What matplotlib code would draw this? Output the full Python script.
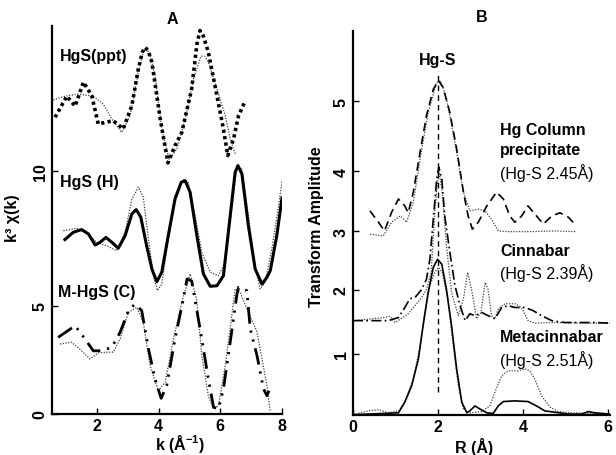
import matplotlib
matplotlib.use("Agg")
import matplotlib.pyplot as plt

plt.rcParams['font.family'] = ['Liberation Sans', 'DejaVu Sans']
plt.rcParams['mathtext.fontset'] = 'custom'
plt.rcParams['mathtext.rm'] = 'Liberation Sans:bold'
plt.rcParams['mathtext.bf'] = 'Liberation Sans:bold'
plt.rcParams['mathtext.it'] = 'Liberation Sans:italic:bold'

# ---------------- Panel A : k^3 chi(k) ----------------
ppt_k = [0.64, 1.02, 1.29, 1.56, 1.83, 2.04, 2.26, 2.53, 2.85, 3.13, 3.34, 3.47, 3.56, 3.66,
         3.78, 4.05, 4.30, 4.53, 4.75, 5.07, 5.24, 5.34, 5.45, 5.61, 5.89, 6.10, 6.24, 6.43,
         6.59, 6.81]
ppt_data = [11.99, 12.77, 12.40, 13.29, 12.79, 11.74, 11.80, 11.86, 11.56, 12.42, 13.78, 14.40,
            14.58, 14.45, 14.03, 11.93, 10.30, 10.94, 11.43, 13.04, 14.70, 15.20, 15.00, 14.40,
            12.79, 11.56, 10.57, 11.19, 12.05, 12.60]
ppt_fit_k = [0.58, 0.96, 1.39, 1.88, 2.20, 2.48, 2.80, 3.07, 3.34, 3.50, 3.61, 3.72, 3.88, 4.10,
             4.34, 4.59, 4.86, 5.13, 5.37, 5.50, 5.61, 5.89, 6.16, 6.32, 6.48]
ppt_fit = [12.63, 12.77, 12.85, 12.77, 12.48, 11.93, 11.43, 12.05, 13.66, 14.40, 14.54, 14.30,
           13.53, 11.56, 10.44, 10.81, 11.93, 13.41, 14.25, 14.25, 14.03, 13.04, 12.05, 11.19,
           10.63]

h_k = [0.96, 1.23, 1.50, 1.72, 1.94, 2.10, 2.29, 2.48, 2.69, 2.91, 3.13, 3.27, 3.42, 3.61,
       3.78, 3.94, 4.10, 4.31, 4.53, 4.73, 4.86, 5.02, 5.24, 5.45, 5.67, 5.89, 6.10, 6.32,
       6.48, 6.57, 6.70, 6.91, 7.13, 7.35, 7.51, 7.62, 7.83, 8.00]
h_data = [7.46, 7.73, 7.83, 7.67, 7.26, 7.36, 7.54, 7.36, 7.14, 7.60, 8.41, 8.57, 8.29, 7.23,
          6.37, 5.90, 6.25, 7.60, 8.96, 9.58, 9.64, 9.21, 7.60, 6.19, 5.73, 5.75, 6.12, 8.34,
          9.95, 10.20, 9.89, 7.97, 6.37, 5.81, 6.06, 6.31, 7.60, 9.00]
h_fit_k = [0.91, 1.34, 1.67, 1.99, 2.31, 2.64, 2.91, 3.13, 3.34, 3.50, 3.67, 3.83, 3.96, 4.10,
           4.31, 4.53, 4.80, 4.96, 5.18, 5.40, 5.67, 5.94, 6.16, 6.37, 6.54, 6.70, 6.91, 7.13,
           7.29, 7.45, 7.67, 7.89, 8.00]
h_fit = [7.79, 7.88, 7.70, 7.36, 7.23, 7.05, 7.73, 8.96, 9.40, 9.03, 7.48, 6.12, 5.57, 5.81,
         7.48, 9.09, 9.70, 9.58, 8.34, 6.99, 6.25, 6.12, 6.62, 8.59, 10.20, 10.07, 8.34, 6.49,
         5.63, 5.88, 7.11, 8.71, 9.60]

m_k = [0.74, 1.29, 1.61, 1.88, 2.15, 2.48, 2.75, 3.02, 3.23, 3.45, 3.67, 3.88, 4.08, 4.26, 4.53,
       4.80, 4.92, 5.07, 5.40, 5.61, 5.78, 5.94, 6.10, 6.32, 6.54, 6.59, 6.86, 6.97, 7.19, 7.40,
       7.51, 7.58]
m_data = [3.84, 4.27, 3.78, 3.34, 3.34, 3.47, 4.03, 4.83, 5.07, 4.83, 3.41, 2.30, 1.58, 2.05,
          3.78, 5.26, 6.00, 5.93, 3.78, 2.30, 1.25, 1.19, 1.93, 3.66, 5.44, 5.69, 5.57, 4.15,
          3.16, 1.93, 1.68, 1.86]
m_fit_k = [0.80, 1.18, 1.50, 1.77, 2.04, 2.31, 2.53, 2.75, 3.02, 3.29, 3.50, 3.72, 3.99, 4.21,
           4.48, 4.75, 5.02, 5.23, 5.40, 5.61, 5.78, 5.94, 6.16, 6.37, 6.48, 6.64, 6.86, 7.19,
           7.51, 7.62]
m_fit = [3.59, 3.66, 3.34, 3.04, 3.26, 3.29, 3.29, 3.78, 4.77, 4.95, 4.40, 2.79, 1.86, 2.17,
         3.78, 5.14, 6.19, 5.26, 3.16, 1.68, 1.19, 1.31, 2.79, 4.64, 5.63, 5.52, 4.89, 4.03,
         2.05, 1.08]

a_xticks = [2, 4, 6, 8]
a_ytick_pos = [1.0, 5, 10]
a_ytick_lab = ['0', '5', '10']

# ---------------- Panel B : Fourier transforms ----------------
col_r = [0.40, 0.60, 0.74, 0.91, 1.07, 1.22, 1.30, 1.42, 1.58, 1.73, 1.89, 2.01, 2.12, 2.28,
         2.44, 2.60, 2.71, 2.81, 2.95, 3.15, 3.38, 3.54, 3.69, 3.81, 3.97, 4.12, 4.32, 4.48,
         4.68, 4.87, 5.07, 5.26]
col_data = [3.25, 3.07, 2.93, 3.23, 3.44, 3.33, 3.22, 3.55, 4.19, 4.77, 5.19, 5.33, 5.22, 4.82,
            4.24, 3.55, 3.17, 2.96, 3.07, 3.33, 3.55, 3.44, 3.17, 3.07, 3.17, 3.33, 3.17, 3.04,
            3.17, 3.22, 3.15, 3.01]
col_fit_r = [0.40, 0.71, 0.91, 1.11, 1.26, 1.42, 1.58, 1.77, 1.97, 2.07, 2.20, 2.40, 2.60, 2.75,
             2.95, 3.11, 3.26, 3.42, 3.65, 4.12, 4.75, 5.26]
col_fit = [2.88, 2.85, 3.07, 3.17, 3.07, 3.39, 4.08, 4.82, 5.30, 5.32, 5.04, 4.34, 3.55, 3.25,
           3.28, 3.25, 3.12, 2.93, 2.92, 2.92, 2.93, 2.92]

cin_r = [0.0, 0.83, 1.07, 1.22, 1.34, 1.46, 1.62, 1.73, 1.81, 1.89, 1.97, 2.02, 2.09, 2.16,
         2.28, 2.40, 2.52, 2.64, 2.75, 2.87, 3.03, 3.18, 3.34, 3.50, 3.65, 3.81, 4.05, 4.24,
         4.44, 4.68, 4.99, 5.38, 5.69, 6.05]
cin_data = [1.50, 1.50, 1.55, 1.71, 1.85, 1.87, 2.00, 2.16, 2.48, 3.12, 3.76, 3.95, 3.76, 3.17,
            2.59, 2.06, 1.74, 1.50, 1.61, 1.58, 1.63, 1.58, 1.53, 1.71, 1.74, 1.71, 1.71, 1.66,
            1.58, 1.50, 1.47, 1.47, 1.47, 1.46]
cin_fit_r = [0.0, 0.75, 0.87, 0.99, 1.15, 1.30, 1.46, 1.62, 1.73, 1.84, 1.93, 2.02, 2.10, 2.20,
             2.32, 2.48, 2.60, 2.70, 2.79, 2.91, 3.01, 3.11, 3.18, 3.26, 3.34, 3.42, 3.58, 3.81,
             3.97, 4.12, 4.28, 4.75, 5.54, 6.05]
cin_fit = [1.50, 1.55, 1.57, 1.47, 1.54, 1.61, 1.74, 1.87, 2.00, 2.27, 3.28, 3.92, 3.55, 2.70,
           1.95, 1.58, 1.85, 2.27, 2.00, 1.53, 1.63, 2.11, 2.00, 1.58, 1.53, 1.69, 1.77, 1.77,
           1.71, 1.50, 1.46, 1.47, 1.46, 1.46]

met_r = [0.0, 1.07, 1.22, 1.38, 1.54, 1.65, 1.77, 1.89, 1.99, 2.09, 2.20, 2.32, 2.44, 2.56,
         2.68, 2.75, 2.87, 2.99, 3.15, 3.30, 3.42, 3.54, 3.81, 4.12, 4.32, 4.52, 4.75, 5.07,
         5.38, 5.54, 5.69, 6.05]
met_data = [0.0, 0.03, 0.20, 0.46, 0.89, 1.42, 1.95, 2.35, 2.48, 2.40, 2.00, 1.42, 0.73, 0.20,
            0.03, 0.06, 0.14, 0.09, 0.03, 0.02, 0.14, 0.21, 0.22, 0.21, 0.14, 0.06, 0.04, 0.01,
            0.01, 0.05, 0.03, 0.01]
met_fit_r = [0.0, 0.36, 0.60, 0.83, 1.07, 1.22, 1.42, 1.58, 1.69, 1.81, 1.93, 2.01, 2.10, 2.23,
             2.36, 2.48, 2.60, 2.75, 3.03, 3.22, 3.34, 3.50, 3.65, 3.89, 4.05, 4.16, 4.28, 4.44,
             4.64, 4.83, 5.15, 6.05]
met_fit = [0.0, 0.06, 0.08, 0.03, 0.06, 0.20, 0.57, 1.10, 1.63, 2.06, 2.27, 2.35, 2.27, 1.85,
           1.10, 0.46, 0.09, 0.03, 0.05, 0.14, 0.36, 0.62, 0.70, 0.70, 0.73, 0.70, 0.57, 0.30,
           0.12, 0.05, 0.03, 0.01]

hgs_r = 2.0
hgs_span = [0.36, 5.48]

b_xticks = [0, 2, 4, 6]
b_ytick_pos = [0.97, 1.99, 2.93, 3.88, 5.0]
b_ytick_lab = ['1', '2', '3', '4', '5']

# ---------------- figure ----------------
W, H = 616, 456
fig = plt.figure(figsize=(W / 100, H / 100), dpi=100)


def fx(px):
    return px / W


def fy(py):
    return 1 - py / H


axA = fig.add_axes([fx(52), fy(415), fx(282) - fx(52), fy(27) - fy(415)])
axB = fig.add_axes([fx(353), fy(415.7), fx(610) - fx(353), fy(32) - fy(415.7)])

fitstyle = dict(color='0.25', lw=0.9, linestyle=(0, (1, 1.2)), solid_joinstyle='round')

axA.plot(ppt_fit_k, ppt_fit, **fitstyle)
axA.plot(ppt_k, ppt_data, color='black', lw=2.6, linestyle=(0, (0.9, 0.9)))
axA.plot(h_fit_k, h_fit, **fitstyle)
axA.plot(h_k, h_data, color='black', lw=2.2, solid_joinstyle='round')
axA.plot(m_fit_k, m_fit, **fitstyle)
axA.plot(m_k, m_data, color='black', lw=2.0, linestyle=(0, (6, 2.5, 0.8, 2.5, 0.8, 2.5)))

axA.set_xlim(0.54, 8.0)
axA.set_ylim(1.0, 15.37)
axA.set_xticks(a_xticks)
axA.set_yticks(a_ytick_pos)
axA.set_yticklabels(a_ytick_lab, rotation=90, va='center')

axB.plot(col_fit_r, col_fit, **fitstyle)
axB.plot(col_r, col_data, color='black', lw=1.2, linestyle=(0, (5, 3)))
axB.plot(cin_fit_r, cin_fit, **fitstyle)
axB.plot(cin_r, cin_data, color='black', lw=1.2, linestyle=(0, (6, 2, 1, 2)))
axB.plot(met_fit_r, met_fit, **fitstyle)
axB.plot(met_r, met_data, color='black', lw=1.2, solid_joinstyle='round')
axB.plot([hgs_r, hgs_r], hgs_span, color='black', lw=1.0, linestyle=(0, (4, 3)))

axB.set_xlim(0, 6.05)
axB.set_ylim(0, 6.12)
axB.set_xticks(b_xticks)
axB.set_yticks(b_ytick_pos)
axB.set_yticklabels(b_ytick_lab, rotation=90, va='center')

for ax in (axA, axB):
    for s in ('top', 'right'):
        ax.spines[s].set_visible(False)
    for s in ('left', 'bottom'):
        ax.spines[s].set_linewidth(1.6)
    ax.tick_params(direction='in', length=4, width=1.0, labelsize=11.5, pad=3)
    for lab in ax.get_xticklabels() + ax.get_yticklabels():
        lab.set_fontweight('bold')
    ax.patch.set_alpha(0)

fs = 11.5
fig.text(fx(172), fy(19), 'A', ha='center', va='center', fontsize=fs, fontweight='bold')
fig.text(fx(482), fy(18), 'B', ha='center', va='center', fontsize=fs, fontweight='bold')

fig.text(fx(60), fy(57), 'HgS(ppt)', ha='left', va='center', fontsize=fs, fontweight='bold')
fig.text(fx(60), fy(183), 'HgS (H)', ha='left', va='center', fontsize=fs, fontweight='bold')
fig.text(fx(58), fy(292), 'M-HgS (C)', ha='left', va='center', fontsize=fs, fontweight='bold')

fig.text(fx(438), fy(60), 'Hg-S', ha='center', va='center', fontsize=fs, fontweight='bold')
fig.text(fx(500), fy(130), 'Hg Column', ha='left', va='center', fontsize=fs, fontweight='bold')
fig.text(fx(500), fy(151), 'precipitate', ha='left', va='center', fontsize=fs, fontweight='bold')
fig.text(fx(500), fy(173), '(Hg-S 2.45Å)', ha='left', va='center', fontsize=fs)
fig.text(fx(500), fy(252), 'Cinnabar', ha='left', va='center', fontsize=fs, fontweight='bold')
fig.text(fx(500), fy(273), '(Hg-S 2.39Å)', ha='left', va='center', fontsize=fs)
fig.text(fx(500), fy(337), 'Metacinnabar', ha='left', va='center', fontsize=fs, fontweight='bold')
fig.text(fx(500), fy(360), '(Hg-S 2.51Å)', ha='left', va='center', fontsize=fs)

fig.text(fx(13), fy(218), 'k³ χ(k)', ha='center', va='center', rotation=90,
         fontsize=fs, fontweight='bold')
fig.text(fx(317), fy(227), 'Transform Amplitude', ha='center', va='center', rotation=90,
         fontsize=fs, fontweight='bold')
fig.text(fx(180), fy(444), r'k (Å$^{-1}$)', ha='center', va='center',
         fontsize=fs, fontweight='bold')
fig.text(fx(474), fy(447), 'R (Å)', ha='center', va='center', fontsize=fs, fontweight='bold')

fig.savefig('out.png', dpi=100)
